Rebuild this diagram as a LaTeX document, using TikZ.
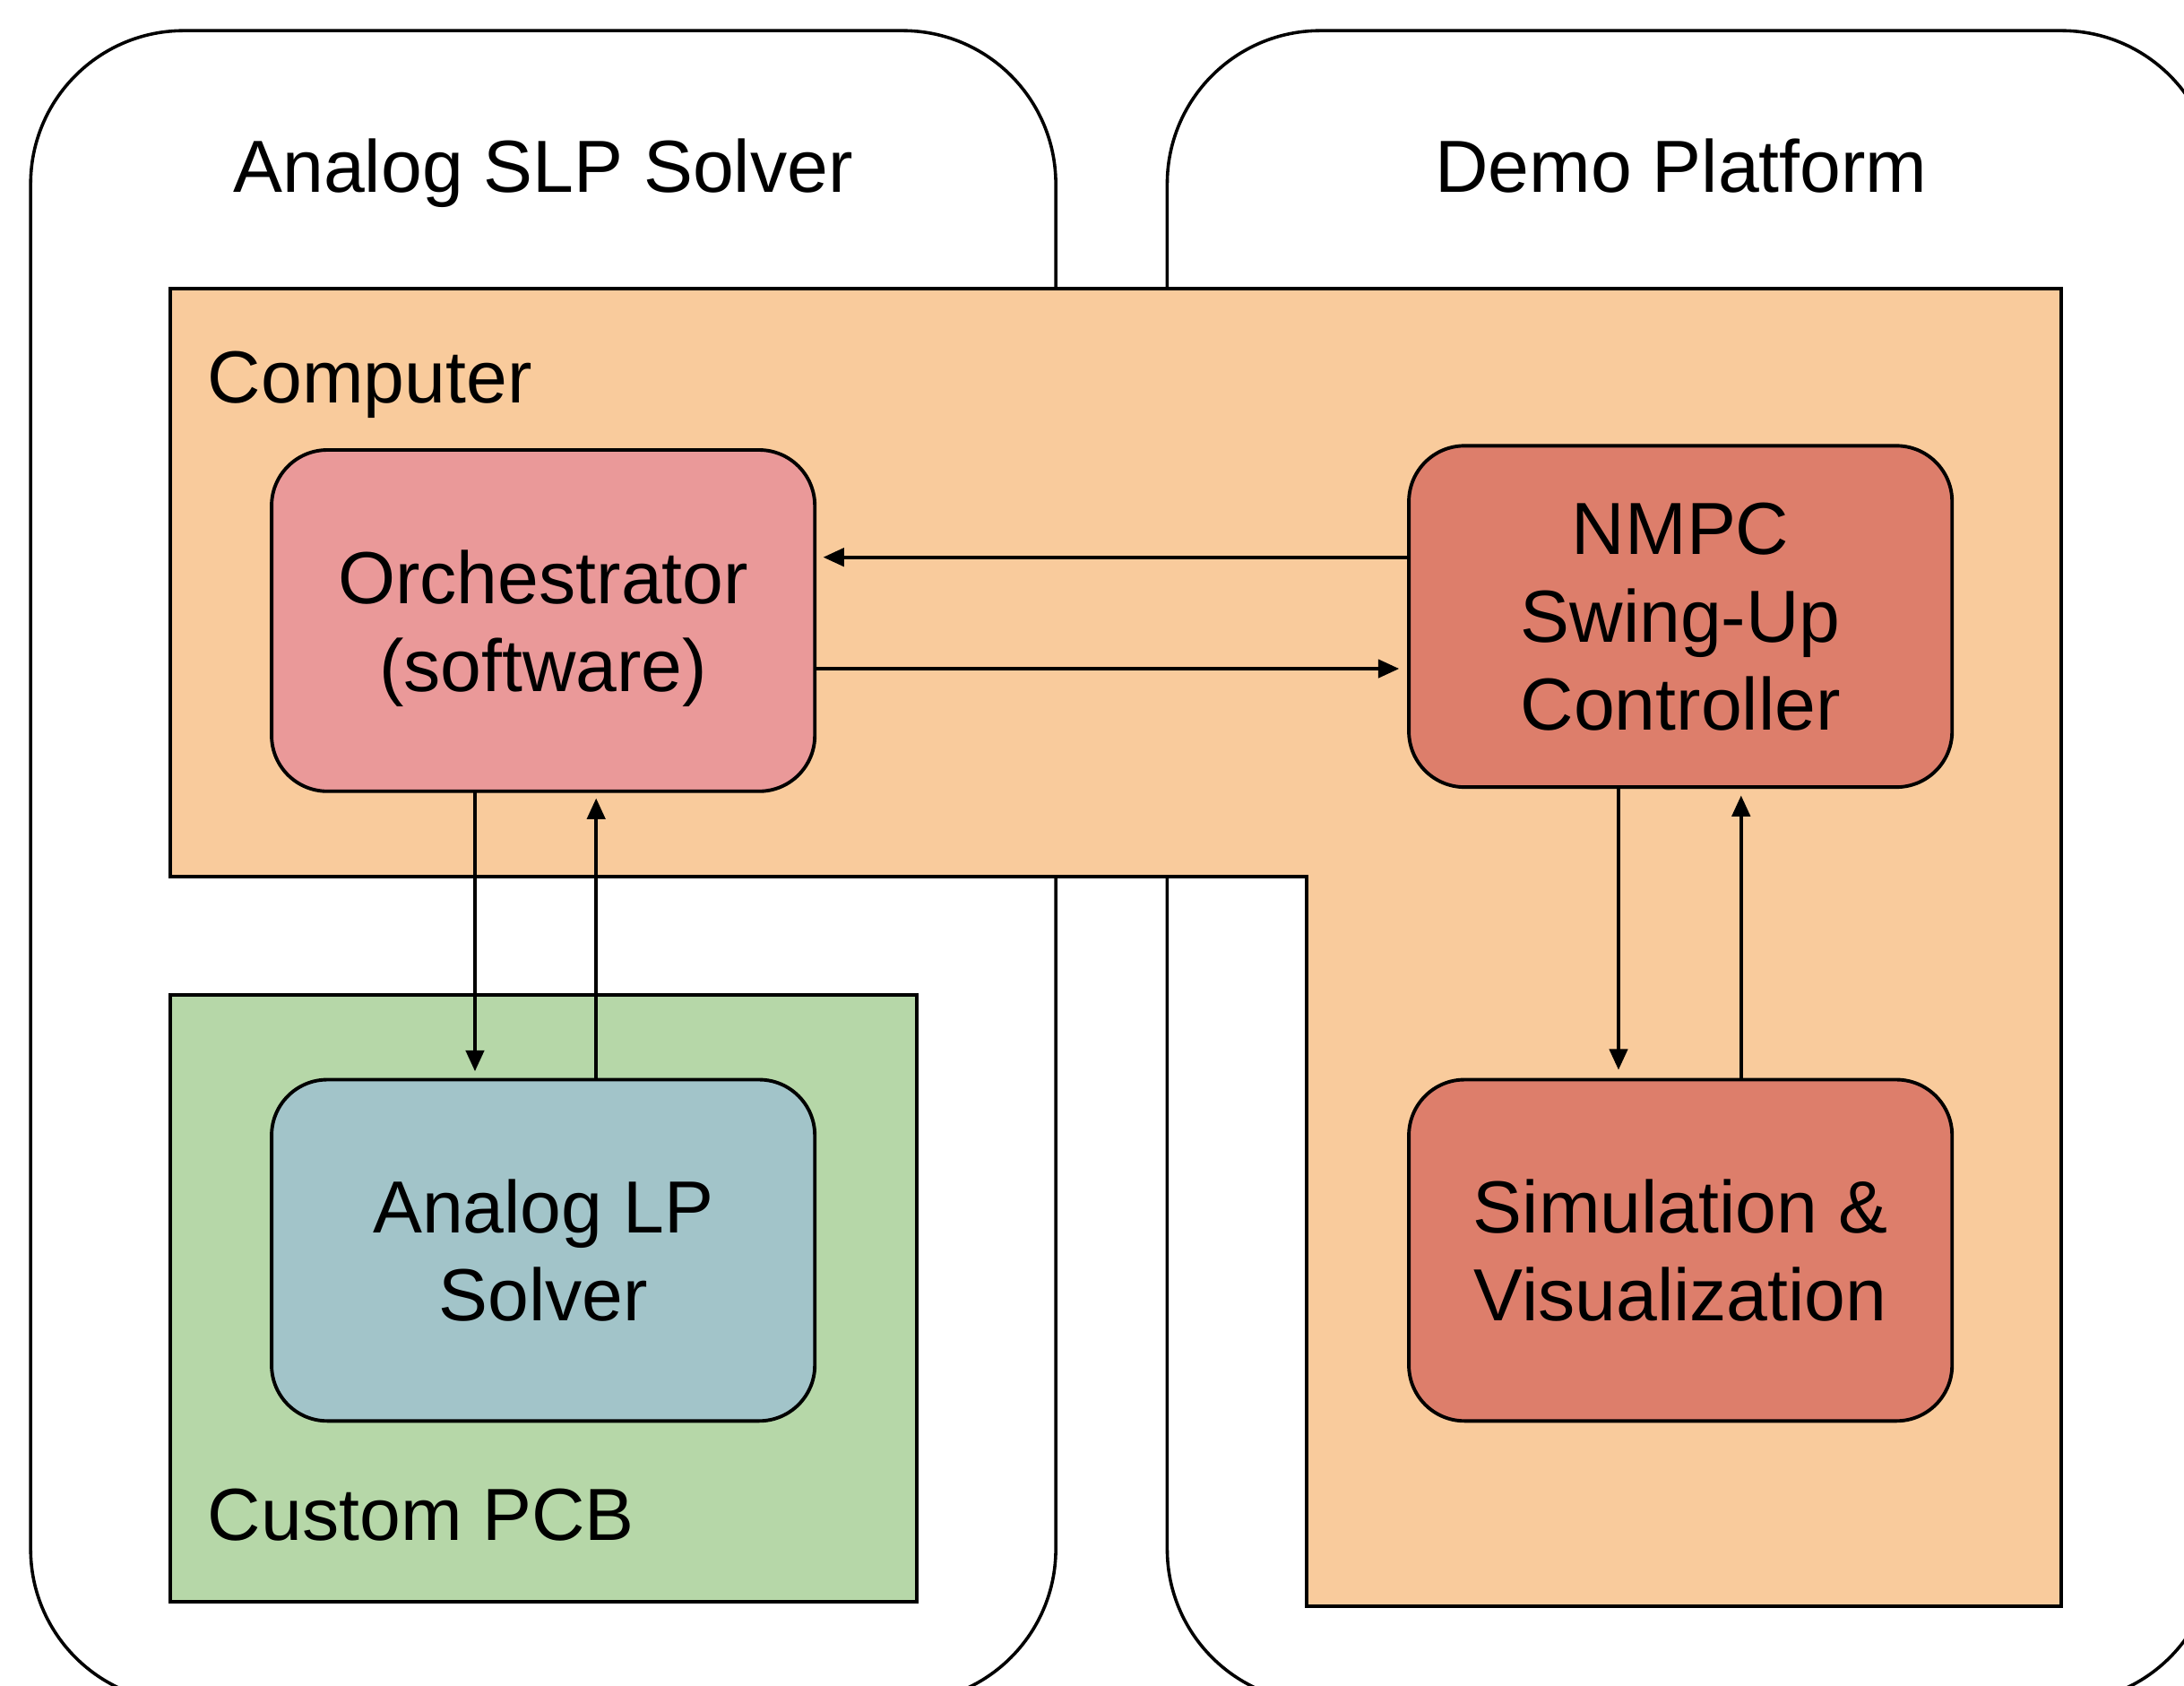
\documentclass[tikz,border=0pt]{standalone}
\usepackage{fontspec}
\setmainfont{Liberation Sans}
\usetikzlibrary{arrows.meta}
\definecolor{orangefill}{HTML}{F9CB9C}
\definecolor{pinkfill}{HTML}{EA9999}
\definecolor{redfill}{HTML}{DD7E6B}
\definecolor{bluefill}{HTML}{A2C4C9}
\definecolor{greenfill}{HTML}{B6D7A8}
\tikzset{
  outerbox/.style={draw=black,line width=2.3pt,rounded corners=110pt,fill=white},
  region/.style={draw=black,line width=2.5pt},
  blockbox/.style={draw=black,line width=2.5pt,rounded corners=40pt,minimum width=390pt,minimum height=245pt,inner sep=0pt,outer sep=0pt,align=center,font=\fontsize{53}{63}\selectfont},
  biglabel/.style={font=\fontsize{53}{63}\selectfont,inner sep=0pt},
  arr/.style={draw=black,line width=2.5pt,-{Triangle[length=15pt,width=13pt]}}
}
\begin{document}
\begin{tikzpicture}[x=1pt,y=-1pt]
\useasboundingbox (0,0) rectangle (1568,1210);
\clip (0,0) rectangle (1568,1210);
% outer containers
\draw[outerbox] (22,22) rectangle (758,1222);
\draw[outerbox] (838,22) rectangle (1590,1222);
% computer L-shape region
\draw[region,fill=orangefill] (122,207) -- (1480,207) -- (1480,1153) -- (938,1153) -- (938,629) -- (122,629) -- cycle;
% custom PCB region
\draw[region,fill=greenfill] (122,714) rectangle (658,1150);
% labels
\node[biglabel,anchor=base] (slp) at (390,138) {Analog SLP Solver};
\node[biglabel,anchor=base] (demo) at (1207,138) {Demo Platform};
\node[biglabel,anchor=base west] (comp) at (149,289) {Computer};
\node[biglabel,anchor=base west] (pcb) at (149,1106) {Custom PCB};
% blocks
\node[blockbox,fill=pinkfill] (orch) at (390,445.5) {Orchestrator\\\raisebox{0pt}[\height][0pt]{(software)}};
\node[blockbox,fill=redfill] (nmpc) at (1206.5,442.5) {NMPC\\Swing-Up\\Controller};
\node[blockbox,fill=redfill] (sim) at (1206.5,897.5) {Simulation \&\\Visualization};
\node[blockbox,fill=bluefill] (lp) at (390,897.5) {Analog LP\\Solver};
% helper coordinates
\coordinate (h1) at (0,400);
\coordinate (h2) at (0,480);
\coordinate (v1) at (341,0);
\coordinate (v2) at (428,0);
\coordinate (v3) at (1162,0);
\coordinate (v4) at (1250,0);
% connectors
\draw[arr,shorten >=6pt] (nmpc.west |- h1) -- (orch.east |- h1);
\draw[arr,shorten >=7pt] (orch.east |- h2) -- (nmpc.west |- h2);
\draw[arr,shorten >=6pt] (orch.south -| v1) -- (lp.north -| v1);
\draw[arr,shorten >=5pt] (lp.north -| v2) -- (orch.south -| v2);
\draw[arr,shorten >=7pt] (nmpc.south -| v3) -- (sim.north -| v3);
\draw[arr,shorten >=6pt] (sim.north -| v4) -- (nmpc.south -| v4);
\end{tikzpicture}
\end{document}
